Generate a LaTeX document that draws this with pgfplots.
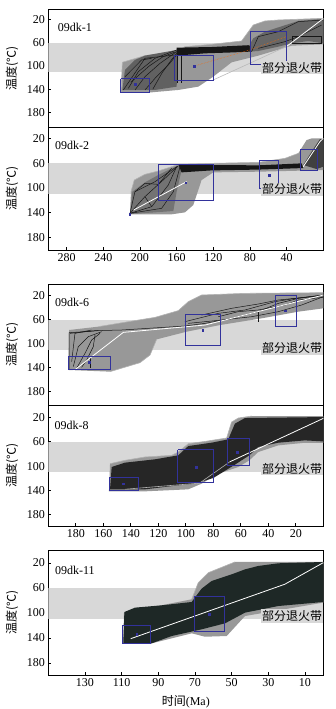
\documentclass[border=0pt]{standalone}
\usepackage{fontspec}
\setmainfont{Liberation Serif}
\newfontfamily\cjk{Noto Sans CJK SC}
\usepackage{pgfplots}
\pgfplotsset{compat=1.18}
\definecolor{band}{RGB}{216,216,216}
\definecolor{env}{RGB}{152,152,152}
\definecolor{envl}{RGB}{178,178,178}
\definecolor{boxc}{RGB}{50,50,155}
\definecolor{dk}{RGB}{22,22,22}
\definecolor{dkg}{RGB}{30,40,38}
\pgfplotsset{
  tp/.style={
    scale only axis, width=275pt,
    x dir=reverse, y dir=reverse,
    axis line style={line width=0.8pt},
    tick style={black, line width=0.6pt},
    major tick length=3pt,
    tick align=inside,
    xtick pos=left, ytick pos=left,
    ytick={20,60,100,140,180},
    tick label style={font=\fontsize{12}{14}\selectfont},
    /pgf/number format/assume math mode=true,
    ylabel={{\cjk 温度(℃)}},
    every axis y label/.style={at={(axis description cs:-0.132,0.5)}, rotate=90, anchor=center, font=\fontsize{12}{14}\selectfont},
  },
  bx/.style={boxc, line width=0.8pt, line join=miter},
  dt/.style={boxc, only marks, mark=square*, mark size=0.8pt},
  bl/.style={dk, line width=0.5pt},
  ed/.style={envl, line width=0.6pt},
}
\tikzset{
  lab/.style={anchor=west, inner sep=0pt, font=\fontsize{12}{14}\selectfont},
  pz/.style={anchor=east, inner sep=1pt, fill=band, font=\fontsize{12}{14}\cjk},
}
\begin{document}
\begin{tikzpicture}
\path[use as bounding box] (0,0) rectangle (335pt,709pt);
% ---------------- Panel 1: 09dk-1
\begin{axis}[tp, at={(48.3pt,581.3pt)}, anchor=south west, height=118.7pt,
  xmin=0, xmax=300, ymin=1.4, ymax=206.5, xtick=\empty]
\addplot[draw=none,fill=band] coordinates {(0,60)(300,60)(300,110)(0,110)};
\addplot[draw=none,fill=env] coordinates {(220.7,145.4)(219.2,93.5)(194.6,82)(160,75.1)(150.9,66.5)(121.9,62.5)(89.1,56.7)(76.4,29.1)(63.6,22.1)(49.1,20.4)(0,17.5)(0,62.5)(34.5,64.8)(70.9,82)(100,93.5)(120,118.3)(136.4,135.6)(158.2,141.3)(187.3,145.4)};
\addplot[ed] coordinates {(220.7,145.4)(219.2,93.5)(194.6,82)(160,75.1)(150.9,66.5)(121.9,62.5)(89.1,56.7)(76.4,29.1)(63.6,22.1)(49.1,20.4)(0,17.5)};
\addplot[draw=none,fill=black!62] coordinates {(219.2,141.3)(216.4,106.8)(205.5,89.5)(194.6,82)(160,72.2)(158.2,80.9)(160,135.6)(183.6,141.3)};
\addplot[draw=none,fill=dk] coordinates {(160,68.2)(121.9,67.1)(81.9,64)(78,66)(78,75)(100,76.5)(129,78)(151,80.9)(160,80.9)};
\addplot[draw=none,fill=black!60] coordinates {(80,62)(76.4,52.1)(63.6,40.6)(27.3,22.1)(0,18.7)(0,60.7)(16.4,56.7)(34.5,60.7)(49.1,66.5)(70.9,74)(80,75)};
\addplot[bl] coordinates {(218.1,141.3)(194.5,86.6)(161.8,80.9)};
\addplot[bl] coordinates {(212.7,138.5)(201.8,109.7)(183.6,86.6)(160,72.2)};
\addplot[bl] coordinates {(205.4,141.3)(194.5,118.3)(178.1,95.3)(160,75.1)};
\addplot[bl] coordinates {(194.5,141.3)(183.6,121.2)(169.1,98.2)(160,80.9)};
\addplot[bl] coordinates {(216.3,118.3)(198.2,89.5)(187.2,86.6)};
\addplot[bl] coordinates {(210,128)(190,100)(175,84)(162,76)};
\addplot[bl] coordinates {(186,140)(176,112)(166,90)(160,78)};
\addplot[bl] coordinates {(158.9,75.1)(158.9,129.8)};
\addplot[bl] coordinates {(154.5,80.9)(154.5,129.8)};
\addplot[bl] coordinates {(78.2,75.1)(70.9,49.2)(49.1,40.6)(27.3,23.3)(0,20.4)};
\addplot[bl] coordinates {(70.9,69.4)(41.8,57.8)(27.3,49.2)(1.8,29.1)};
\addplot[bl] coordinates {(34.1,49.2)(1.8,49.2)(1.8,60.7)(34.1,60.7)(34.1,49.2)};
\addplot[gray!55, line width=0.6pt] coordinates {(120,124)(40,66)};
\addplot[white, line width=0.8pt] coordinates {(40,66)(0,18)};
\addplot[orange!80!red, densely dotted, line width=0.5pt] coordinates {(141,100)(80,72)(40,49)};
\addplot[bx] coordinates {(221,122)(190,122)(190,145)(221,145)(221,122)};
\addplot[bx] coordinates {(162,81)(120,81)(120,124)(162,124)(162,81)};
\addplot[bx] coordinates {(80,39.4)(40,39.4)(40,98)(80,98)(80,39.4)};
\addplot[dt] coordinates {(205.4,131.8)(141,100)};
\node[pz] at (axis cs:0,102.8) {部分退火带};
\node[lab] at (axis description cs:0.034,0.848) {09dk-1};
\end{axis}
% ---------------- Panel 2: 09dk-2
\begin{axis}[tp, at={(48.3pt,459pt)}, anchor=south west, height=122.3pt,
  xmin=0, xmax=300, ymin=2.7, ymax=200.6, xtick={40,80,...,280}]
\addplot[draw=none,fill=band] coordinates {(0,60)(300,60)(300,110)(0,110)};
\addplot[draw=none,fill=env] coordinates {(210.9,142.9)(209.8,106.3)(206.2,87.4)(194.6,78.2)(180,72.8)(165.5,65.8)(158.2,62)(121.9,60.4)(70.9,58.8)(41.8,52.3)(27.3,44.2)(18.2,22.7)(12.7,20)(0,20)(0,71.2)(12.7,71.2)(27.3,72.3)(70.9,73.9)(120,75)(132.8,87.4)(141.8,127.8)(150.9,139.7)(165.5,142.9)};
\addplot[ed] coordinates {(209.8,106.3)(206.2,87.4)(194.6,78.2)(180,72.8)(165.5,65.8)(158.2,62)(121.9,60.4)(70.9,58.8)(41.8,52.3)(27.3,44.2)};
\addplot[draw=none,fill=black!55] coordinates {(210.9,142.4)(208.3,106.3)(194.6,91.2)(180,79.3)(165.5,68.5)(158.2,64.2)(154.6,71.2)(160,106.3)(163.6,137.5)(183.6,139.7)};
\addplot[draw=none,fill=dk] coordinates {(158.2,62)(121.9,63.1)(70.9,63.6)(23.6,60.4)(21.8,68)(70.9,70.5)(121.9,71.8)(154.6,75)};
\addplot[draw=none,fill=black!75] coordinates {(21.8,63.1)(12.7,41.5)(3.6,21)(0,21)(0,65.8)(7.3,69.6)};
\addplot[bl] coordinates {(210.9,141.3)(205.5,106.3)(183.6,90.1)(160,65.8)};
\addplot[bl] coordinates {(210.9,141.3)(194.6,114.3)(172.7,84.7)(158.2,64.2)};
\addplot[bl] coordinates {(210.9,141.3)(187.2,130.5)(169.1,95.5)(160,65.8)};
\addplot[bl] coordinates {(210.9,141.3)(176.4,133.2)(163.6,106.3)(156.3,65.8)};
\addplot[bl] coordinates {(205.5,106.3)(194.6,92.8)(180,94.4)(165.5,68.5)};
\addplot[bl] coordinates {(194.6,114.3)(187.2,130.5)};
\addplot[white, line width=0.8pt] coordinates {(207,136)(149,90)};
\addplot[white, line width=0.8pt] coordinates {(22,66)(3.6,25)(0,20)};
\addplot[bx] coordinates {(180,62)(120,62)(120,119.7)(180,119.7)(180,62)};
\addplot[bx] coordinates {(69.8,55.6)(49.1,55.6)(49.1,101)(69.8,101)(69.8,55.6)};
\addplot[bx] coordinates {(24.7,37.8)(6.2,37.8)(6.2,71.2)(24.7,71.2)(24.7,37.8)};
\addplot[dt] coordinates {(150.2,91.8)(59.3,79.3)(211,142.4)};
\node[pz] at (axis cs:0,102.4) {部分退火带};
\node[lab] at (axis description cs:0.024,0.853) {09dk-2};
\end{axis}
% ---------------- Panel 3: 09dk-6
\begin{axis}[tp, at={(48.3pt,303.3pt)}, anchor=south west, height=121.7pt,
  xmin=0, xmax=200, ymin=0.4, ymax=203.5, xtick=\empty]
\addplot[draw=none,fill=band] coordinates {(0,60)(200,60)(200,110)(0,110)};
\addplot[draw=none,fill=env] coordinates {(184.9,77.2)(163.6,71.6)(141.8,63.3)(122.4,56.1)(105.5,44.9)(98.2,29.9)(88.5,18.8)(57,16)(0,14.9)(0,41)(18.2,46.6)(44.8,57.7)(75.1,68.9)(99.4,80)(121.2,92.8)(126,118.9)(133.3,131.7)(155.1,146.7)(185.4,143.9)};
\addplot[ed] coordinates {(163.6,71.6)(141.8,63.3)(122.4,56.1)(105.5,44.9)(98.2,29.9)(88.5,18.8)(57,16)(0,14.9)};
\addplot[ed] coordinates {(121.2,92.8)(126,118.9)(133.3,131.7)(155.1,146.7)};
\addplot[bl] coordinates {(184.2,82.8)(166,78.3)(146.6,77.2)(100.6,70.5)(86,66.1)(66.7,57.7)(47.3,46.6)(32.7,32.7)(18.2,24.4)(0,18.8)};
\addplot[bl] coordinates {(184.9,142.8)(184.9,81.6)(173.3,80)(163.6,78.3)};
\addplot[bl] coordinates {(181.8,138.4)(178.2,105)(170.9,88.3)(161.2,80)};
\addplot[bl] coordinates {(179.4,141.1)(173.3,116.1)(168.5,93.9)(162.4,82.8)};
\addplot[bl] coordinates {(175.8,139.5)(172.1,127.3)(167.3,105)(166,85.5)};
\addplot[bl] coordinates {(183,130)(180.6,82.8)(168.5,77.2)};
\addplot[bl] coordinates {(169.7,121.7)(169.7,141.1)};
\addplot[bl] coordinates {(100.6,63.3)(76.4,49.4)(57,43.8)(35.1,29.9)(20.6,24.4)(0,18.8)};
\addplot[bl] coordinates {(98.2,66.1)(73.9,60.5)(52.1,55)(32.7,46.6)(15.8,35.5)(0,21.6)};
\addplot[bl] coordinates {(88.5,52.2)(66.7,41)(47.3,33.8)(32.7,27.1)(8.5,21.6)(0,19.9)};
\addplot[bl] coordinates {(76.4,55)(61.9,46.6)(47.3,43.8)(27.8,35.5)(18.2,27.1)(0,22.7)};
\addplot[bl] coordinates {(47.3,46.6)(47.3,63.3)};
\addplot[white, line width=0.8pt] coordinates {(190.3,160.6)(145.4,81.1)(86,68.9)(0,18.8)};
\addplot[bx] coordinates {(185.4,120.6)(154.6,120.6)(154.6,142.8)(185.4,142.8)(185.4,120.6)};
\addplot[bx] coordinates {(100,51)(74.5,51)(74.5,102.2)(100,102.2)(100,51)};
\addplot[bx] coordinates {(35,18.8)(19.3,18.8)(19.3,70.5)(35,70.5)(35,18.8)};
\addplot[dt] coordinates {(170.1,131)(87.7,77.2)(27.8,44.9)};
\node[pz] at (axis cs:0,107.8) {部分退火带};
\node[lab] at (axis description cs:0.024,0.846) {09dk-6};
\end{axis}
% ---------------- Panel 4: 09dk-8
\begin{axis}[tp, at={(48.3pt,183pt)}, anchor=south west, height=120.7pt,
  xmin=0, xmax=200, ymin=0.2, ymax=198.4, xtick={20,40,...,180}]
\addplot[draw=none,fill=band] coordinates {(0,60)(200,60)(200,110)(0,110)};
\addplot[draw=none,fill=env] coordinates {(155.9,141.5)(155.1,96.1)(144.3,90.6)(129.7,85.1)(110.3,82.4)(105.5,76.9)(98.2,63.3)(86,59.5)(70.3,53.9)(66.7,27.7)(61.8,21.1)(52.1,17.8)(0,17.8)(0,61.7)(13.4,61.7)(32.7,66)(47.3,76.9)(53.8,90.6)(61.8,101.5)(76.4,112.5)(88.5,128.9)(98.2,138.2)(129.7,141.5)};
\addplot[ed] coordinates {(155.1,96.1)(144.3,90.6)(129.7,85.1)(110.3,82.4)(105.5,76.9)(98.2,63.3)(86,59.5)(70.3,53.9)(66.7,27.7)(61.8,21.1)(52.1,17.8)};
\addplot[draw=none,fill=black!85] coordinates {(155.1,138.2)(153.9,101.5)(144.3,94.4)(122.4,88.9)(105.5,82.4)(98.2,67.1)(81.2,61.6)(69.1,56.1)(64.3,30.4)(57,21.1)(0,19.5)(0,59.5)(13.4,57.8)(32.7,61.6)(47.3,68.7)(53.8,82.4)(64.3,97.7)(80,119.6)(93.3,128.9)(105.5,131.6)(129.7,138.2)};
\addplot[gray!60, line width=0.6pt] coordinates {(144,138)(90,128)(68,93)};
\addplot[white, line width=0.8pt] coordinates {(68,93)(0,21.7)};
\addplot[bx] coordinates {(155.8,118)(134.3,118)(134.3,139.8)(155.8,139.8)(155.8,118)};
\addplot[bx] coordinates {(105.8,73.1)(80,73.1)(80,127.2)(105.8,127.2)(105.8,73.1)};
\addplot[bx] coordinates {(69.7,54)(53.8,54)(53.8,98.8)(69.7,98.8)(69.7,54)};
\addplot[dt] coordinates {(145.4,128.9)(92.5,101.5)(62.4,76.9)};
\node[pz] at (axis cs:0,104.3) {部分退火带};
\node[lab] at (axis description cs:0.022,0.834) {09dk-8};
\end{axis}
% ---------------- Panel 5: 09dk-11
\begin{axis}[tp, at={(48.3pt,33.7pt)}, anchor=south west, height=125.3pt,
  xmin=0, xmax=150, ymin=-0.75, ymax=199.6, xtick={10,30,...,130},
  xlabel={{\cjk 时间}(Ma)},
  every axis x label/.style={at={(axis description cs:0.5,-0.211)}, anchor=center, font=\fontsize{12}{14}\selectfont}]
\addplot[draw=none,fill=band] coordinates {(0,60)(150,60)(150,110)(0,110)};
\addplot[draw=none,fill=env] coordinates {(109.1,148.5)(108.7,99.4)(71.8,78.1)(68.2,51.5)(62.7,35.5)(48.2,18.4)(0,18.4)(0,83.4)(42.7,104.8)(52.7,136.8)(64.5,137.9)(71.8,132.5)(93.6,148.5)};
\addplot[ed] coordinates {(71.8,78.1)(68.2,51.5)(62.7,35.5)(48.2,18.4)};
\addplot[draw=none,fill=dkg] coordinates {(109.1,148.5)(108.5,98.4)(102.7,91.4)(88.2,87.7)(71.8,82.4)(66.4,61.1)(60.9,48.8)(50,38.2)(42.7,30.2)(35.5,24.8)(24.5,20.5)(0,18.4)(0,82.4)(24.5,88.8)(42.7,99.4)(53.6,116.5)(66.4,126.1)(82.7,136.8)(93.6,148.5)};
\addplot[white, line width=0.8pt] coordinates {(105,141)(21,54)(0,19.5)};
\addplot[bx] coordinates {(109.4,119.7)(94.3,119.7)(94.3,148.4)(109.4,148.4)(109.4,119.7)};
\addplot[bx] coordinates {(70.3,72.8)(54.1,72.8)(54.1,129.3)(70.3,129.3)(70.3,72.8)};
\addplot[dt] coordinates {(101.8,134.1)(62.3,102.1)};
\node[pz] at (axis cs:0,104.8) {部分退火带};
\node[lab] at (axis description cs:0.024,0.838) {09dk-11};
\end{axis}
\end{tikzpicture}
\end{document}
